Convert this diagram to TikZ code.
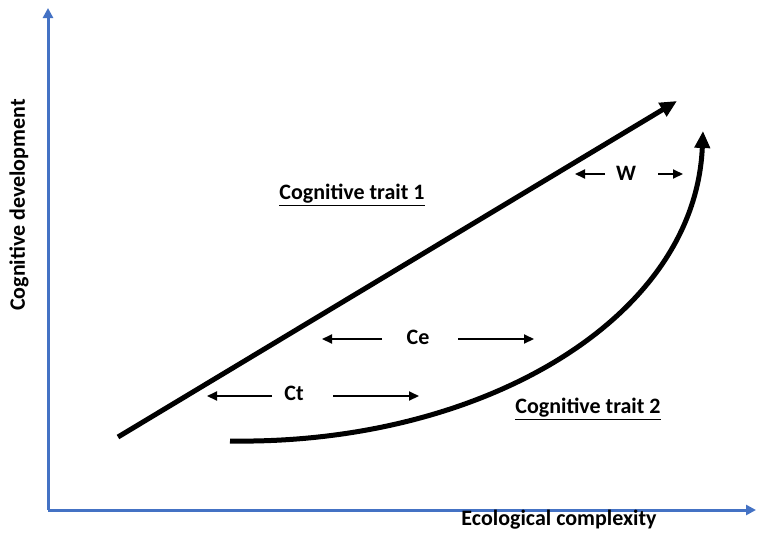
\documentclass[tikz,border=0pt]{standalone}
\usepackage{fontspec}
\setmainfont{Carlito}
\usetikzlibrary{arrows.meta}
\definecolor{axisblue}{RGB}{68,114,196}
\tikzset{
  lbl/.style={font=\bfseries\fontsize{22}{26}\selectfont, inner sep=1pt},
  axis/.style={draw=axisblue, line width=3pt, -{Triangle[length=10pt,width=10pt]}},
  trait/.style={line width=5pt, -{Triangle[length=17pt,width=15pt]}},
  span/.style={line width=2pt, -{Triangle[length=10pt,width=9pt]}}
}
\begin{document}
\begin{tikzpicture}[x=1pt, y=-1pt]
  \useasboundingbox (0,0) rectangle (757,533);
  % axes
  \coordinate (o) at (48,510);
  \coordinate (ytop) at (48,8);
  \coordinate (xend) at (756,510);
  \draw[axis] (o) -- (ytop);
  \draw[axis] (o) -- (xend);
  \node[lbl, rotate=90] at (19,205) (ylab) {Cognitive development};
  \node[lbl] at (559,520) (xlab) {Ecological complexity};
  % trait curves
  \coordinate (t1a) at (118,437);
  \coordinate (t1b) at (677,101);
  \draw[trait] (t1a) -- (t1b);
  \coordinate (t2a) at (230,441);
  \coordinate (t2b) at (703,131);
  \draw[trait] (t2a) .. controls (480,445) and (695,320) .. (t2b);
  \node[lbl] at (352,195) (n1) {\underline{Cognitive trait 1}};
  \node[lbl] at (588,409) (n2) {\underline{Cognitive trait 2}};
  % widths
  \node[lbl] at (626,173) (w) {W};
  \coordinate (wl0) at (605,174);
  \coordinate (wl) at (575,174);
  \coordinate (wr0) at (658,174);
  \coordinate (wr) at (683,174);
  \draw[span] (wl0) -- (wl);
  \draw[span] (wr0) -- (wr);
  \node[lbl] at (418,337) (ce) {Ce};
  \coordinate (cel0) at (382,339);
  \coordinate (cel) at (322,339);
  \coordinate (cer0) at (458,339);
  \coordinate (cer) at (534,339);
  \draw[span] (cel0) -- (cel);
  \draw[span] (cer0) -- (cer);
  \node[lbl] at (294,393) (ct) {Ct};
  \coordinate (ctl0) at (272,396);
  \coordinate (ctl) at (207,396);
  \coordinate (ctr0) at (333,396);
  \coordinate (ctr) at (419,396);
  \draw[span] (ctl0) -- (ctl);
  \draw[span] (ctr0) -- (ctr);
\end{tikzpicture}
\end{document}
